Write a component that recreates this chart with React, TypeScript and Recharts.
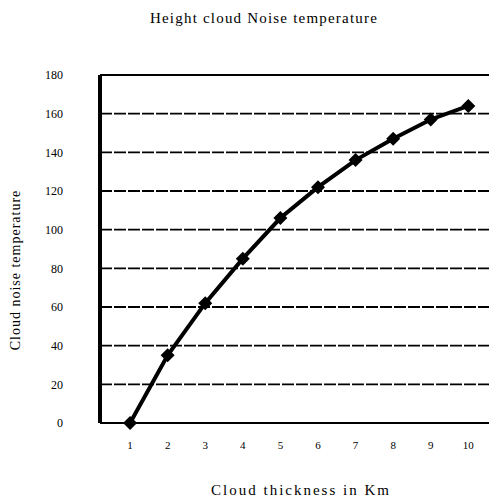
import { LineChart, Line, XAxis, YAxis, CartesianGrid, ReferenceLine } from "recharts";

const thicknessKm = [1, 2, 3, 4, 5, 6, 7, 8, 9, 10];
const noiseTemp = [0, 35, 62, 85, 106, 122, 136, 147, 157, 164];
const yTicks = [0, 20, 40, 60, 80, 100, 120, 140, 160, 180];

const data = thicknessKm.map((km, i) => ({ km, temp: noiseTemp[i] }));

const serif = "'Liberation Serif', 'DejaVu Serif', serif";

// diamond marker like the scanned excel chart
const Diamond = (props: any) => {
  const { cx, cy } = props;
  if (cx == null || cy == null) return null;
  const r = 7;
  return (
    <polygon
      points={`${cx},${cy - r} ${cx + r},${cy} ${cx},${cy + r} ${cx - r},${cy}`}
      fill="#000"
    />
  );
};

export default function App() {
  return (
    <div style={{ position: "absolute", left: 0, top: 0, width: 489, height: 502, background: "#fff", fontFamily: serif }}>
      <div
        style={{
          position: "absolute",
          top: 18,
          left: 264,
          fontSize: 15,
          letterSpacing: 1.2,
          whiteSpace: "nowrap",
          transform: "translate(-50%, -50%)",
        }}
      >
        Height cloud Noise temperature
      </div>
      <div
        style={{
          position: "absolute",
          left: 16,
          top: 270,
          fontSize: 14,
          letterSpacing: 1,
          whiteSpace: "nowrap",
          transform: "translate(-50%, -50%) rotate(-90deg)",
        }}
      >
        Cloud noise temperature
      </div>
      <div
        style={{
          position: "absolute",
          top: 490,
          left: 301,
          fontSize: 15,
          letterSpacing: 2,
          whiteSpace: "nowrap",
          transform: "translate(-50%, -50%)",
        }}
      >
        Cloud thickness in Km
      </div>
      <LineChart width={489} height={502} data={data} margin={{ top: 75, right: 0, bottom: 49, left: 40 }}>
        <CartesianGrid vertical={false} stroke="#000" strokeWidth={1.8} strokeDasharray="12 2" />
        <XAxis
          dataKey="km"
          type="number"
          domain={[0.2, 10.55]}
          ticks={thicknessKm}
          height={30}
          axisLine={{ stroke: "#000", strokeWidth: 2 }}
          tickLine={false}
          tickMargin={12}
          tick={{ fill: "#000", fontSize: 11, fontFamily: serif }}
        />
        <YAxis
          domain={[0, 180]}
          ticks={yTicks}
          width={60}
          axisLine={{ stroke: "#000", strokeWidth: 4 }}
          tickLine={false}
          tickMargin={31}
          tick={{ fill: "#000", fontSize: 12, fontFamily: serif }}
        />
        <ReferenceLine y={180} stroke="#000" strokeWidth={2} />
        <Line
          type="linear"
          dataKey="temp"
          stroke="#000"
          strokeWidth={4}
          dot={<Diamond />}
          activeDot={false}
          isAnimationActive={false}
        />
      </LineChart>
    </div>
  );
}
